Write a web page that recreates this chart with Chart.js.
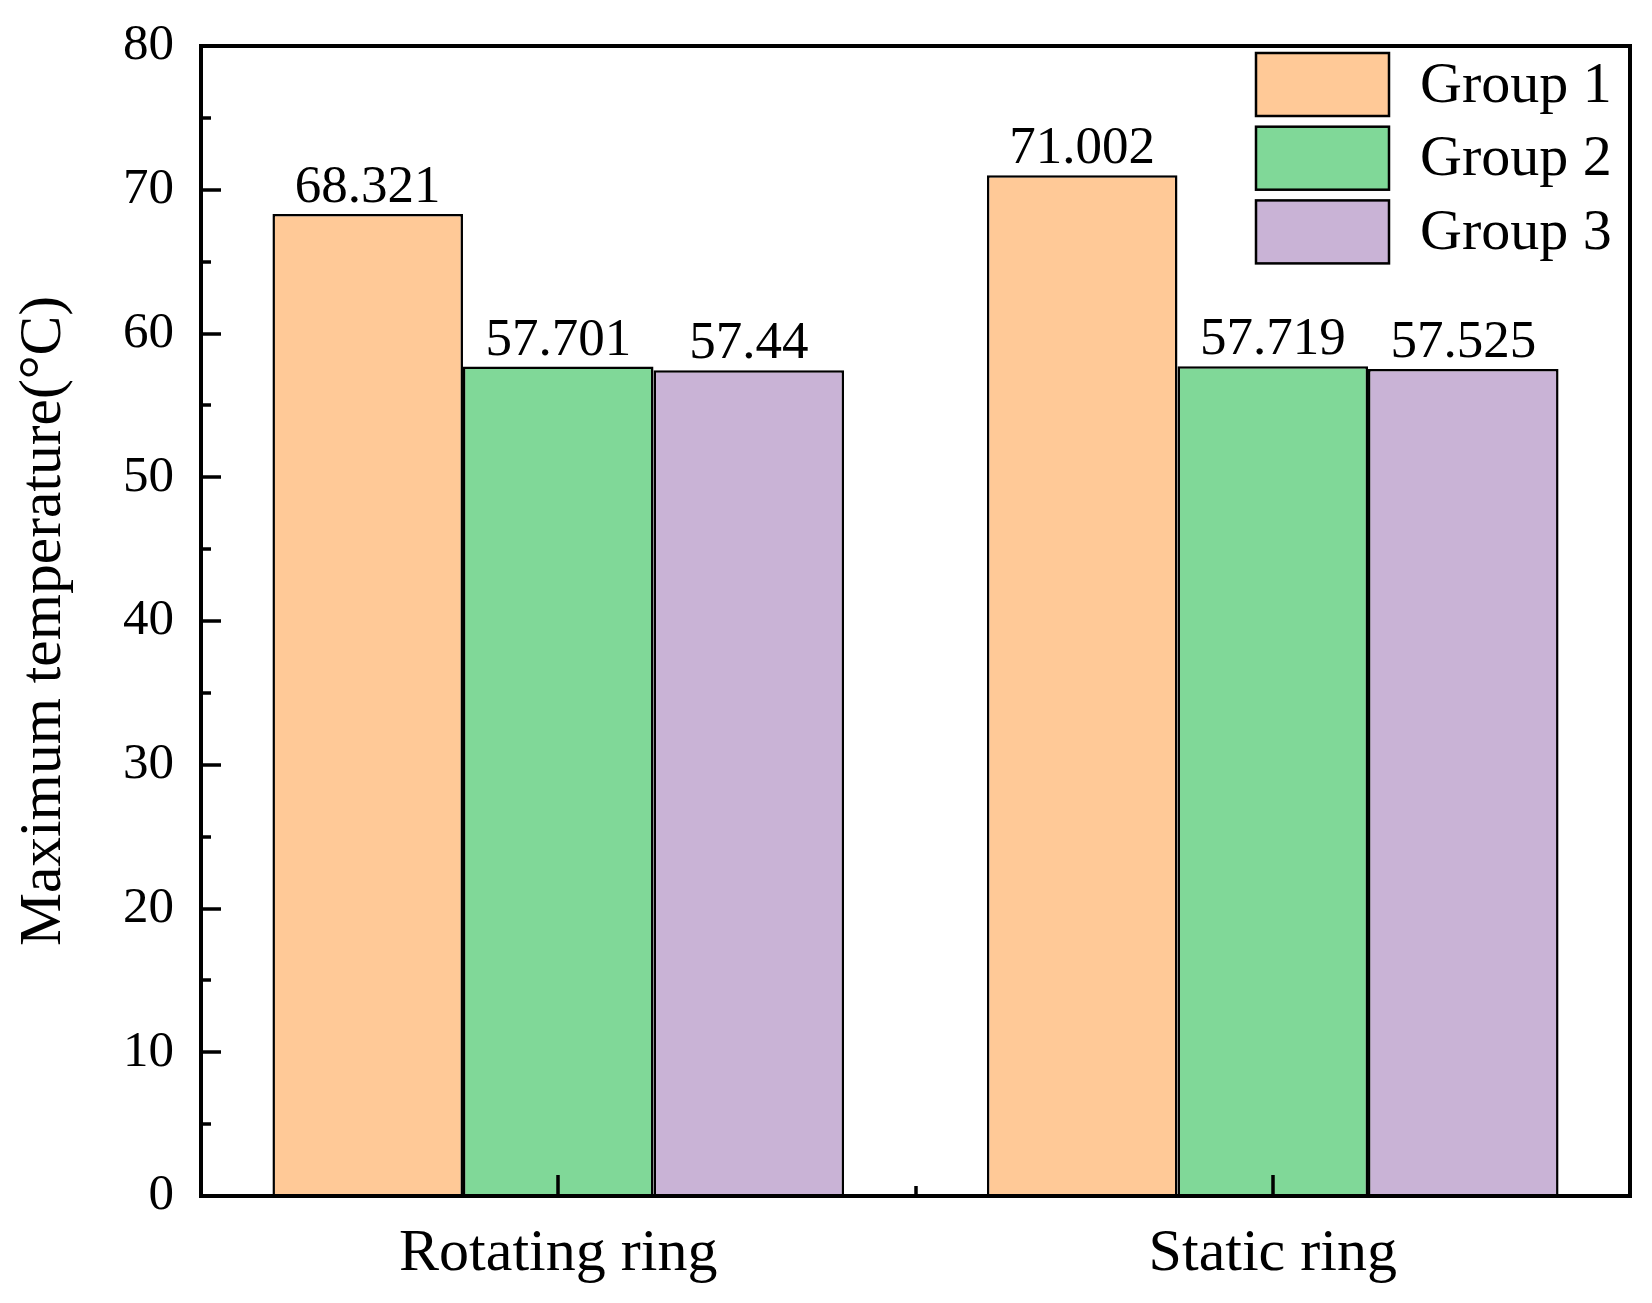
<!DOCTYPE html>
<html><head><meta charset="utf-8">
<script src="https://cdn.jsdelivr.net/npm/chart.js@4"></script>
<style>html,body{margin:0;padding:0;background:#fff}</style>
</head><body>
<canvas id="c" width="1652" height="1303" style="display:block;width:1652px;height:1303px"></canvas>
<script>
const categories = ['Rotating ring', 'Static ring'];
const seriesNames = ['Group 1', 'Group 2', 'Group 3'];
const group1 = [68.321, 71.002];
const group2 = [57.701, 57.719];
const group3 = [57.44, 57.525];
const yMin = 0, yMax = 80, yStep = 10;
const yTitle = 'Maximum temperature(°C)';
const colors = ['#FFC997', '#80D898', '#C9B3D6'];

const FONT = "'Liberation Serif', 'Times New Roman', serif";

const framePlugin = {
  id: 'frame',
  afterDatasetsDraw(chart) {
    const ctx = chart.ctx, a = chart.chartArea;
    const y = chart.scales.y, x = chart.scales.x;
    ctx.save();
    ctx.strokeStyle = '#000';
    ctx.lineWidth = 3.5;
    ctx.lineCap = 'butt';
    // y ticks (inward)
    for (let v = yMin; v <= yMax; v += yStep / 2) {
      const py = Math.round(y.getPixelForValue(v));
      const major = Math.abs(v % yStep) < 1e-9;
      const len = major ? 20 : 10;
      ctx.beginPath(); ctx.moveTo(a.left, py); ctx.lineTo(a.left + len, py); ctx.stroke();
    }
    // x ticks (inward)
    for (let i = 0; i < categories.length; i++) {
      const px = Math.round(x.getPixelForValue(i));
      ctx.beginPath(); ctx.moveTo(px, a.bottom); ctx.lineTo(px, a.bottom - 21); ctx.stroke();
      if (i < categories.length - 1) {
        const mx = Math.round((x.getPixelForValue(i) + x.getPixelForValue(i + 1)) / 2);
        ctx.beginPath(); ctx.moveTo(mx, a.bottom); ctx.lineTo(mx, a.bottom - 10); ctx.stroke();
      }
    }
    ctx.lineWidth = 4;
    ctx.strokeRect(a.left, a.top, a.right - a.left, a.bottom - a.top);

    // data labels
    ctx.fillStyle = '#000';
    ctx.font = '53px ' + FONT;
    ctx.textAlign = 'center';
    ctx.textBaseline = 'alphabetic';
    chart.data.datasets.forEach((ds, di) => {
      const meta = chart.getDatasetMeta(di);
      meta.data.forEach((bar, i) => {
        ctx.fillText(String(ds.data[i]), bar.x, bar.y - 12);
      });
    });

    // legend
    const lx = 1256, ly = 53, bw = 133, bh = 63, pitch = 73.7;
    ctx.font = '58px ' + FONT;
    ctx.textAlign = 'left';
    ctx.textBaseline = 'middle';
    chart.data.datasets.forEach((ds, di) => {
      const top = ly + di * pitch;
      ctx.fillStyle = ds.backgroundColor;
      ctx.fillRect(lx, top, bw, bh);
      ctx.lineWidth = 2.5;
      ctx.strokeStyle = '#000';
      ctx.strokeRect(lx, top, bw, bh);
      ctx.fillStyle = '#000';
      ctx.fillText(ds.label, lx + bw + 31, top + bh / 2 + 2);
    });
    ctx.restore();
  }
};

const datasets = [group1, group2, group3].map((d, i) => ({
  label: seriesNames[i],
  data: d,
  backgroundColor: colors[i],
  borderColor: '#000',
  borderWidth: 2.5,
  barPercentage: 1.0,
  categoryPercentage: 0.8
}));

new Chart(document.getElementById('c'), {
  type: 'bar',
  data: { labels: categories, datasets },
  options: {
    responsive: false,
    animation: false,
    devicePixelRatio: 1,
    layout: { padding: { left: 0, top: 46, right: 22, bottom: 0 } },
    plugins: { legend: { display: false }, tooltip: { enabled: false } },
    scales: {
      x: {
        offset: true,
        grid: { display: false, drawTicks: false },
        border: { display: false },
        ticks: { color: '#000', font: { family: FONT, size: 60 }, padding: 22 },
        afterFit(s) { s.height = 107; s.paddingLeft = 0; s.paddingRight = 0; }
      },
      y: {
        min: yMin, max: yMax,
        grid: { display: false, drawTicks: false },
        border: { display: false },
        ticks: { stepSize: yStep, color: '#000', font: { family: FONT, size: 51 }, padding: 27 },
        title: { display: true, text: yTitle, color: '#000', font: { family: FONT, size: 59.5, lineHeight: 1 }, padding: { top: 15, bottom: 0 } },
        afterFit(s) { s.width = 201; s.paddingTop = 0; s.paddingBottom = 0; }
      }
    }
  },
  plugins: [framePlugin]
});
</script>
</body></html>
